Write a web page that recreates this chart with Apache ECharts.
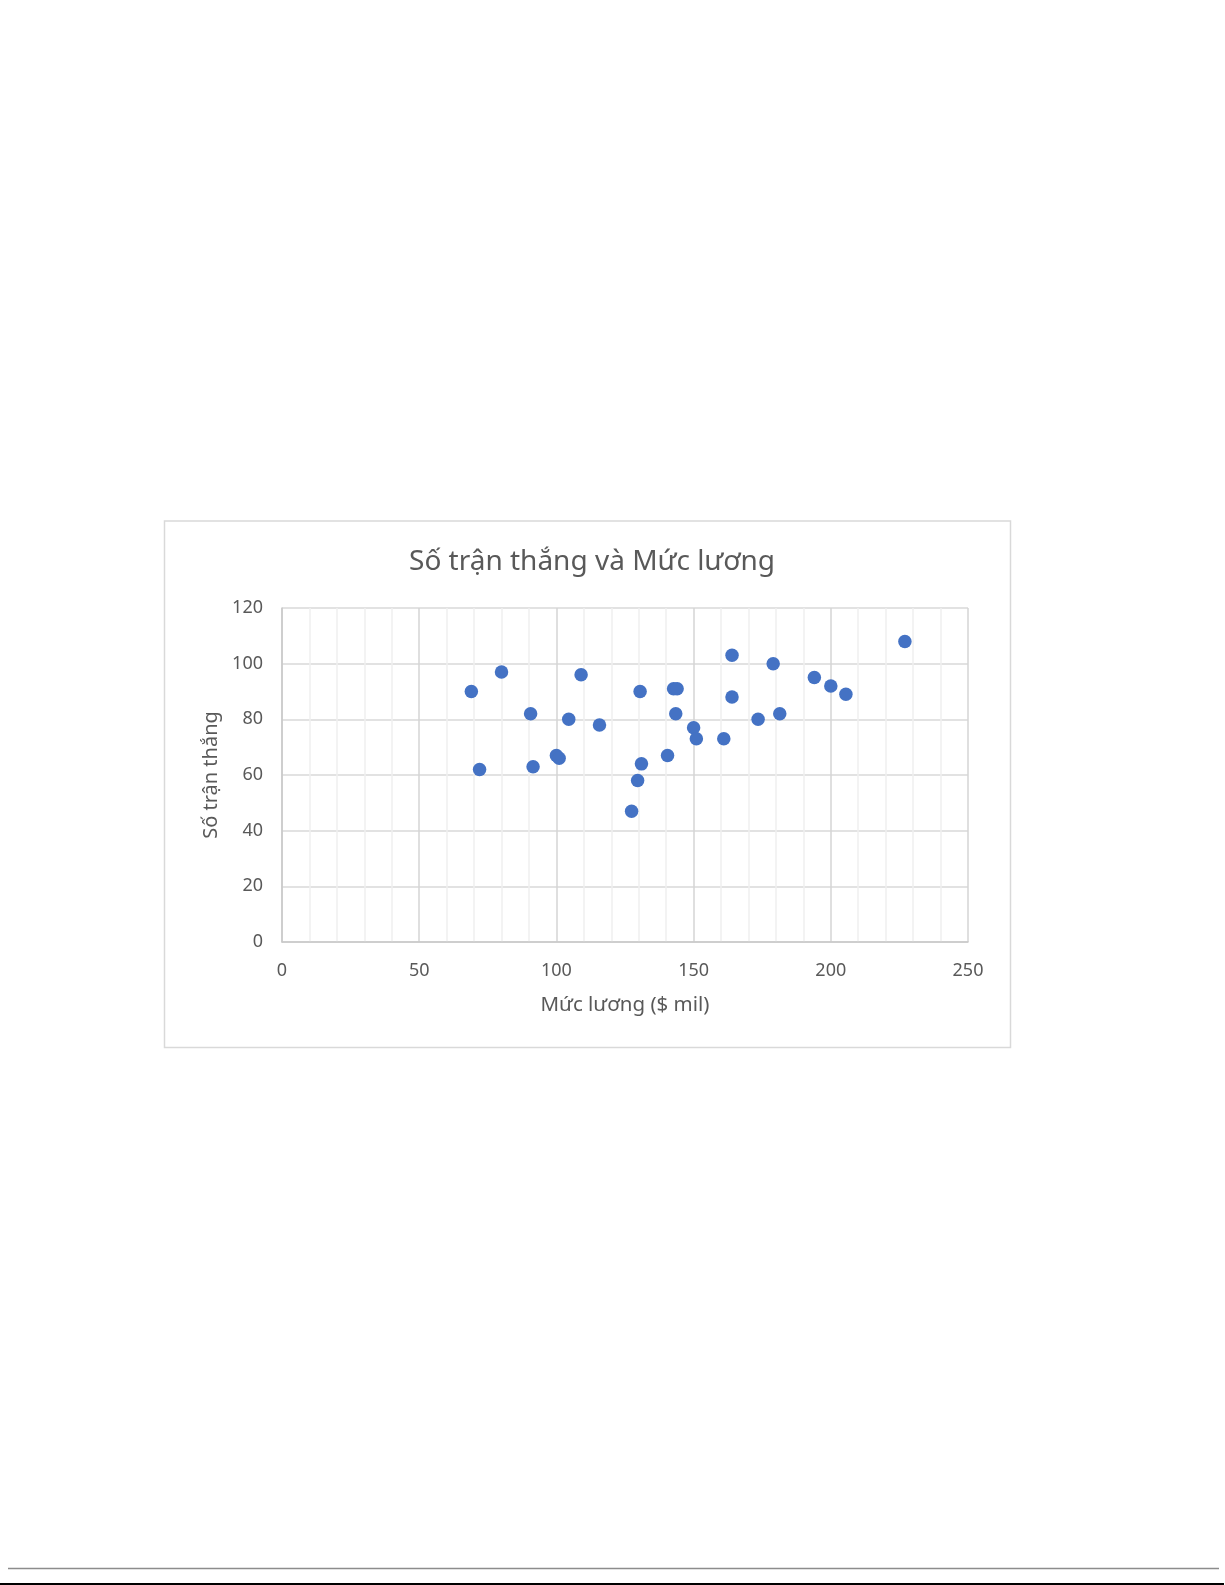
<!DOCTYPE html>
<html>
<head>
<meta charset="utf-8">
<title>Số trận thắng và Mức lương</title>
<script src="https://cdn.jsdelivr.net/npm/echarts@6/dist/echarts.min.js"></script>
<style>
  html, body { margin: 0; padding: 0; background: #fff; }
  #chart { width: 1225px; height: 1585px; }
</style>
</head>
<body>
<div id="chart"></div>
<script>
// Mức lương ($ mil) và Số trận thắng
const salary = [69, 80, 109, 90.6, 104.5, 115.7, 100, 101, 72, 91.5,
  227, 164, 179, 194, 200, 205.5, 130.5, 142.7, 144, 164,
  143.5, 173.5, 181.4, 150, 151, 161, 140.5, 131, 129.6, 127.4]
const wins = [90, 97, 96, 82, 80, 78, 67, 66, 62, 63,
  108, 103, 100, 95, 92, 89, 90, 91, 91, 88,
  82, 80, 82, 77, 73, 73, 67, 64, 58, 47]

const xTicks = { min: 0, max: 250, interval: 50 }
const yTicks = { min: 0, max: 120, interval: 20 }

const points = salary.map((s, i) => [s, wins[i]])

const fontFamily = '"Noto Sans", "Open Sans", sans-serif'
const labelColor = '#595959'

const chart = echarts.init(document.getElementById('chart'))

chart.setOption({
  animation: false,
  textStyle: { fontFamily },
  title: {
    text: 'Số trận thắng và Mức lương',
    left: 587,
    top: 543,
    textAlign: 'center',
    textStyle: { fontSize: 28, fontWeight: 'normal', color: labelColor, fontFamily }
  },
  graphic: [{
    type: 'rect',
    shape: { x: 164.5, y: 521, width: 846, height: 526.5 },
    style: { fill: 'none', stroke: '#d9d9d9', lineWidth: 1.5 },
    z: -1
  }, {
    // page separator lines below the chart
    type: 'line',
    shape: { x1: 8, y1: 1568.5, x2: 1219, y2: 1568.5 },
    style: { stroke: '#8c8c8c', lineWidth: 1.5 }
  }, {
    type: 'line',
    shape: { x1: 0, y1: 1584, x2: 1224, y2: 1584 },
    style: { stroke: '#000', lineWidth: 2 }
  }],
  grid: {
    left: 282,
    top: 608,
    width: 686,
    height: 334
  },
  xAxis: {
    type: 'value',
    min: xTicks.min,
    max: xTicks.max,
    interval: xTicks.interval,
    name: 'Mức lương ($ mil)',
    nameLocation: 'middle',
    nameGap: 53,
    nameTextStyle: { fontSize: 20.5, color: labelColor },
    axisLine: { show: true, onZero: false, lineStyle: { color: '#c8c8c8', width: 1.5 } },
    axisTick: { show: false },
    axisLabel: { fontSize: 18, color: labelColor, margin: 20 },
    splitLine: { show: true, lineStyle: { color: '#d4d4d4', width: 1.5 } },
    minorTick: { show: false, splitNumber: 5 },
    minorSplitLine: { show: true, lineStyle: { color: '#efefef', width: 1.5 } }
  },
  yAxis: {
    type: 'value',
    min: yTicks.min,
    max: yTicks.max,
    interval: yTicks.interval,
    name: 'Số trận thắng',
    nameLocation: 'middle',
    nameGap: 60,
    nameTextStyle: { fontSize: 20, color: labelColor },
    axisLine: { show: true, lineStyle: { color: '#c8c8c8', width: 1.5 } },
    axisTick: { show: false },
    axisLabel: { fontSize: 18, color: labelColor, margin: 19 },
    splitLine: { show: true, lineStyle: { color: '#d9d9d9', width: 1.5 } }
  },
  series: [{
    name: 'Số trận thắng',
    type: 'scatter',
    symbol: 'circle',
    symbolSize: 13.5,
    itemStyle: { color: '#4472c4', opacity: 1 },
    data: points
  }]
})
</script>
</body>
</html>
